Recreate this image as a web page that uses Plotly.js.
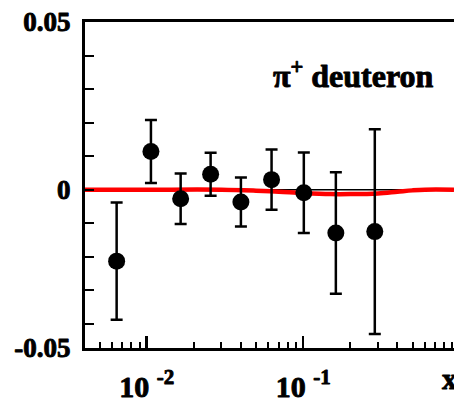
<!DOCTYPE html>
<html>
<head>
<meta charset="utf-8">
<script src="https://cdn.plot.ly/plotly-3.0.1.min.js"></script>
<style>
html,body{margin:0;padding:0;background:#fff;overflow:hidden;}
#chart svg text{stroke:#000;stroke-width:0.9px;stroke-linejoin:round;}
</style>
</head>
<body>
<div id="chart" style="width:454px;height:404px;"></div>
<script>
// Data points (x, asymmetry, error)
var xData = [0.00643, 0.01065, 0.01649, 0.02563, 0.04002, 0.06283, 0.1010, 0.1618, 0.2870];
var yData = [-0.0213, 0.0114, -0.0027, 0.0046, -0.0037, 0.0030, -0.0009, -0.0129, -0.0125];
var yErr  = [0.0175, 0.0094, 0.0075, 0.0064, 0.0073, 0.0090, 0.0120, 0.0181, 0.0305];

// Model curve (red)
var curveX = [0.004, 0.01, 0.03, 0.05, 0.07, 0.1, 0.15, 0.2, 0.3, 0.4, 0.5, 0.6, 0.92];
var curveY = [0, 0, 0, -0.0003, -0.0006, -0.001, -0.0013, -0.0013, -0.0011, -0.0006, -0.0002, 0, 0];

// Zero reference line
var zeroX = [0.004, 0.92];
var zeroY = [0, 0];

// Axis ticks
var xTickVals = [0.01, 0.1];
var xTickText = ['10 <sup>-2</sup>', '10 <sup>-1</sup>'];
var xMinorVals = [0.005, 0.006, 0.007, 0.008, 0.009, 0.02, 0.03, 0.04, 0.05, 0.06, 0.07, 0.08, 0.09, 0.2, 0.3, 0.4, 0.5, 0.6, 0.7, 0.8, 0.9];
var yTickVals = [-0.0472, 0, 0.05];
var yTickText = ['-0.05', '0', '0.05'];
var yMinorVals = [-0.04, -0.03, -0.02, -0.01, 0.01, 0.02, 0.03, 0.04];

var serif = 'Liberation Serif, Times New Roman, serif';

var traces = [
  {x: zeroX, y: zeroY, type: 'scatter', mode: 'lines', line: {color: '#000', width: 1.5}, hoverinfo: 'skip'},
  {x: curveX, y: curveY, type: 'scatter', mode: 'lines', line: {color: '#ff0000', width: 4.5, shape: 'spline'}, hoverinfo: 'skip'},
  {x: xData, y: yData, type: 'scatter', mode: 'markers',
   marker: {color: '#000', size: 17, symbol: 'circle'},
   error_y: {type: 'data', array: yErr, visible: true, color: '#000', thickness: 2.5, width: 6}}
];

var layout = {
  width: 454, height: 404,
  margin: {l: 85, r: 0, t: 22, b: 56, pad: 0},
  paper_bgcolor: '#fff', plot_bgcolor: '#fff',
  showlegend: false,
  xaxis: {
    type: 'log', range: [-2.394, -0.036],
    showgrid: false, zeroline: false,
    showline: true, linewidth: 3, linecolor: '#000', mirror: true,
    ticks: 'inside', ticklen: 12, tickwidth: 2.5, tickcolor: '#000',
    tickmode: 'array', tickvals: xTickVals, ticktext: xTickText,
    tickfont: {family: serif, size: 30, color: '#000', weight: 'bold'},
    ticklabelstandoff: 10,
    minor: {tickmode: 'array', tickvals: xMinorVals, ticks: 'inside', ticklen: 6, tickwidth: 2, tickcolor: '#000', showgrid: false}
  },
  yaxis: {
    range: [-0.0472, 0.05],
    showgrid: false, zeroline: false,
    showline: true, linewidth: 3, linecolor: '#000',
    ticks: 'inside', ticklen: 9, tickwidth: 2, tickcolor: '#000',
    tickmode: 'array', tickvals: yTickVals, ticktext: yTickText,
    tickfont: {family: serif, size: 27, color: '#000', weight: 'bold'},
    ticklabelstandoff: 6,
    minor: {tickmode: 'array', tickvals: yMinorVals, ticks: 'inside', ticklen: 9, tickwidth: 2, tickcolor: '#000', showgrid: false}
  },
  annotations: [
    {xref: 'paper', yref: 'paper', x: 0.505, y: 0.84, xanchor: 'left', yanchor: 'middle', showarrow: false,
     text: '\u03c0<sup>+</sup> deuteron', font: {family: serif, size: 32, color: '#000', weight: 'bold'}},
    {xref: 'paper', yref: 'paper', x: 0.962, y: -0.095, xanchor: 'left', yanchor: 'middle', showarrow: false,
     text: 'x', font: {family: serif, size: 30, color: '#000', weight: 'bold'}}
  ]
};

Plotly.newPlot('chart', traces, layout, {displayModeBar: false, staticPlot: true});
</script>
</body>
</html>
